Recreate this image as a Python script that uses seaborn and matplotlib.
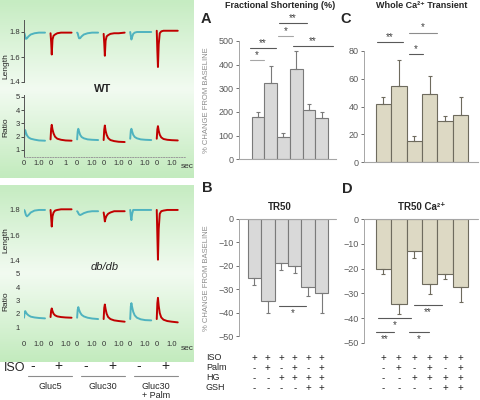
import numpy as np
import matplotlib
matplotlib.use("Agg")
import matplotlib.pyplot as plt
import matplotlib.transforms as mtransforms
from matplotlib.colors import LinearSegmentedColormap
import seaborn as sns

sns.set_theme(style="white")
plt.rcParams['font.family'] = ['Liberation Sans', 'DejaVu Sans']

# ---------------- data ----------------
CONDITIONS = ["ISO", "ISO+Palm", "ISO+HG", "ISO+Palm+HG", "ISO+HG+GSH", "ISO+Palm+HG+GSH"]

FS_MEAN = [177, 324, 93, 381, 209, 173]
FS_ERR = [21, 72, 19, 77, 24, 25]
CA_MEAN = [42, 54.5, 15, 49, 29.5, 34]
CA_ERR = [5, 19, 3.5, 13, 4, 13]
TR50_MEAN = [-25.4, -35, -18.6, -20, -29, -31.8]
TR50_ERR = [3, 5, 3.2, 3.2, 4, 8.2]
TR50CA_MEAN = [-20, -34.2, -13, -26.2, -22.3, -27.6]
TR50CA_ERR = [2.1, 4, 2.8, 4.1, 2, 6]

# significance brackets: (from, to, height, label, line colour)
SIG_A = [(-0.63, 0.47, 419, "*", "#a6a6a6"), (-0.63, 1.41, 472, "**", "#595959"),
         (1.57, 2.75, 521, "*", "#a6a6a6"), (1.65, 3.85, 577, "**", "#595959"),
         (2.75, 5.9, 478, "**", "#595959")]
SIG_C = [(-0.4, 1.27, 86.5, "**", "#595959"), (1.66, 2.57, 78, "*", "#595959"),
         (1.66, 3.48, 93.3, "*", "#8c8c8c")]
SIG_B = [(1.83, 3.84, -37.1, "*", "#595959")]
SIG_D = [(-0.37, 1.79, -40.1, "*", "#595959"), (1.99, 3.8, -34.7, "**", "#595959"),
         (-0.48, 0.69, -45.5, "**", "#595959"), (1.66, 2.98, -45.5, "*", "#595959")]

TREAT_NAMES = ["ISO", "Palm", "HG", "GSH"]
TREAT_ISO = ["+", "+", "+", "+", "+", "+"]
TREAT_PALM = ["-", "+", "-", "+", "-", "+"]
TREAT_HG = ["-", "-", "+", "+", "+", "+"]
TREAT_GSH = ["-", "-", "-", "-", "+", "+"]

# cell traces (cyan = -ISO, red = +ISO), one list per column
T_TRACE = [0, 0.04, 0.08, 0.13, 0.2, 0.3, 0.45, 0.7, 1.0, 1.4]
WT_LEN = [
    [1.795, 1.785, 1.765, 1.745, 1.75, 1.765, 1.78, 1.79, 1.795, 1.795],
    [1.79, 1.72, 1.62, 1.74, 1.77, 1.78, 1.79, 1.795, 1.795, 1.795],
    [1.795, 1.79, 1.77, 1.75, 1.75, 1.765, 1.78, 1.79, 1.795, 1.795],
    [1.785, 1.71, 1.61, 1.73, 1.765, 1.775, 1.785, 1.79, 1.79, 1.795],
    [1.80, 1.77, 1.74, 1.76, 1.785, 1.795, 1.80, 1.80, 1.80, 1.80],
    [1.81, 1.65, 1.52, 1.70, 1.79, 1.805, 1.81, 1.81, 1.81, 1.81],
]
DB_LEN = [
    [1.80, 1.795, 1.78, 1.76, 1.75, 1.76, 1.78, 1.795, 1.80, 1.80],
    [1.80, 1.74, 1.67, 1.75, 1.78, 1.795, 1.80, 1.805, 1.805, 1.805],
    [1.79, 1.785, 1.775, 1.765, 1.76, 1.765, 1.775, 1.785, 1.79, 1.79],
    [1.78, 1.75, 1.71, 1.735, 1.755, 1.77, 1.78, 1.79, 1.79, 1.79],
    [1.80, 1.75, 1.72, 1.77, 1.80, 1.80, 1.80, 1.80, 1.80, 1.80],
    [1.80, 1.60, 1.41, 1.65, 1.77, 1.79, 1.795, 1.80, 1.80, 1.80],
]
WT_RATIO = [
    [1.75, 2.3, 2.5, 2.3, 2.1, 1.95, 1.85, 1.78, 1.72, 1.7],
    [1.8, 2.6, 2.9, 2.55, 2.25, 2.0, 1.85, 1.77, 1.72, 1.7],
    [1.8, 2.4, 2.6, 2.4, 2.15, 1.98, 1.88, 1.8, 1.77, 1.75],
    [1.75, 2.55, 2.85, 2.45, 2.15, 1.9, 1.75, 1.67, 1.62, 1.6],
    [1.85, 2.45, 2.6, 2.4, 2.15, 1.98, 1.88, 1.8, 1.77, 1.75],
    [1.85, 2.55, 2.8, 2.45, 2.15, 1.95, 1.83, 1.77, 1.74, 1.72],
]
DB_RATIO = [
    [1.7, 2.05, 2.2, 2.1, 1.98, 1.88, 1.78, 1.72, 1.68, 1.65],
    [1.75, 2.25, 2.4, 2.2, 2.0, 1.88, 1.8, 1.75, 1.72, 1.7],
    [1.7, 2.3, 2.5, 2.3, 2.1, 1.92, 1.8, 1.7, 1.64, 1.6],
    [1.6, 2.45, 2.7, 2.35, 2.0, 1.75, 1.6, 1.5, 1.45, 1.4],
    [1.6, 2.55, 2.8, 2.5, 2.15, 1.88, 1.7, 1.58, 1.52, 1.5],
    [1.6, 2.8, 3.2, 2.6, 2.05, 1.72, 1.55, 1.45, 1.4, 1.35],
]
WT_XTICKS = ["0", "1.0", "0", "1", "0", "1.0", "0", "1.0", "0", "1.0", "0", "1.0"]
DB_XTICKS = ["0", "1.0", "0", "1.0", "0", "1.0", "0", "1.0", "0", "1.0", "0", "1.0"]
ISO_LEFT = ["-", "+", "-", "+", "-", "+"]
GROUPS = ["Gluc5", "Gluc30", "Gluc30\n+ Palm"]

# ---------------- layout helpers ----------------
W, H = 480, 400
fig = plt.figure(figsize=(W / 100, H / 100), dpi=100)
fig.patch.set_facecolor("white")


def px_axes(left, top, right, bottom, **kw):
    return fig.add_axes([left / W, 1 - bottom / H, (right - left) / W, (bottom - top) / H], **kw)


def ftext(x, y, s, **kw):
    fig.text(x / W, 1 - y / H, s, **kw)


TRACE_GAP = 1.77
TRACE_COLORS = ["#4fb3bf", "#c00000"]
GREEN = LinearSegmentedColormap.from_list("g", ["#c6ecc2", "#f2fbf1", "#c3ebbe"])


def green_box(top, bottom):
    ax = px_axes(0, top, 194, bottom)
    ax.imshow(np.linspace(0, 1, 100)[:, None], cmap=GREEN, aspect="auto")
    ax.set_axis_off()


def trace_axes(top, bottom, ylim, yticks, traces, show_spines, xlabels=None):
    ax = px_axes(24, top, 185, bottom)
    ax.patch.set_alpha(0)
    for i, vals in enumerate(traces):
        t = np.array(T_TRACE) + i * TRACE_GAP
        sns.lineplot(x=t, y=vals, ax=ax, color=TRACE_COLORS[i % 2], lw=1.4)
    ax.set_xlim(0, (185 - 24) / 15)
    ax.set_ylim(*ylim)
    ax.set_yticks(yticks)
    ax.set_yticklabels([f"{v:g}" if v >= 1.4 and v < 2 else str(int(v)) for v in yticks])
    ax.tick_params(axis="y", labelsize=5.5, colors="#333333", length=2, width=0.6, pad=1, left=show_spines)
    for s in ["top", "right"]:
        ax.spines[s].set_visible(False)
    ax.spines["left"].set_visible(show_spines)
    ax.spines["left"].set_color("#555555")
    ax.spines["left"].set_linewidth(0.7)
    ax.spines["bottom"].set_visible(False)
    if xlabels is None:
        ax.set_xticks([])
    else:
        pos = []
        for i in range(6):
            pos += [i * TRACE_GAP, i * TRACE_GAP + 1.0]
        ax.set_xticks(pos)
        ax.set_xticklabels(xlabels)
        ax.tick_params(axis="x", labelsize=5.5, colors="#333333", length=0, pad=2)
        if show_spines:
            ax.spines["bottom"].set_visible(True)
            ax.spines["bottom"].set_color("#9a9a9a")
            ax.spines["bottom"].set_linestyle(":")
            ax.spines["bottom"].set_linewidth(0.7)
    ax.set_xlabel("")
    ax.set_ylabel("")
    return ax


# ---------------- left panel: traces ----------------
green_box(0, 178)
green_box(185, 362)

trace_axes(20, 82, (1.4, 1.896), [1.4, 1.6, 1.8], WT_LEN, True)
ax_wt = trace_axes(95, 157, (0.47, 5.15), [1, 2, 3, 4, 5], WT_RATIO, True, WT_XTICKS)
trace_axes(200, 263, (1.384, 1.878), [1.4, 1.6, 1.8], DB_LEN, False)
ax_db = trace_axes(272, 338, (0.17, 5.15), [1, 2, 3, 4, 5], DB_RATIO, False, DB_XTICKS)

ftext(6, 66, "Length", rotation=90, fontsize=6, ha="center", va="center", color="#222222")
ftext(6, 127, "Ratio", rotation=90, fontsize=6, ha="center", va="center", color="#222222")
ftext(6, 240, "Length", rotation=90, fontsize=6, ha="center", va="center", color="#222222")
ftext(6, 301, "Ratio", rotation=90, fontsize=6, ha="center", va="center", color="#222222")
ftext(103, 89, "WT", fontsize=8, fontweight="bold", ha="center", va="center")
ftext(105, 267, "db/db", fontsize=8, fontstyle="italic", ha="center", va="center")
ftext(187, 167, "sec", fontsize=6, ha="center", va="center", color="#333333")
ftext(187, 349, "sec", fontsize=6, ha="center", va="center", color="#333333")

# ISO +/- row and glucose groups under the traces
ftext(15, 368, "ISO", fontsize=9, ha="center", va="center")
blend = mtransforms.blended_transform_factory(ax_db.transData, fig.transFigure)
for i, sym in enumerate(ISO_LEFT):
    fig.text(i * TRACE_GAP + 0.55, 1 - 366 / H, sym, transform=blend, fontsize=10,
             ha="center", va="center")
for g, name in enumerate(GROUPS):
    x0 = 2 * g * TRACE_GAP + 0.25
    x1 = (2 * g + 1) * TRACE_GAP + 1.45
    fig.add_artist(plt.Line2D([x0, x1], [1 - 376 / H] * 2, transform=blend, color="#8c8c8c", lw=0.8))
    fig.text((x0 + x1) / 2, 1 - 382 / H, name, transform=blend, fontsize=6.5,
             ha="center", va="top", linespacing=1.05)


# ---------------- right panels: bars ----------------
def bar_panel(box, xlim, means, errs, color, edge, ylim, yticks, sigs, below):
    ax = px_axes(*box)
    ax.patch.set_alpha(0)
    sns.barplot(x=CONDITIONS, y=means, ax=ax, color=color, width=1.0, edgecolor=edge,
                linewidth=0.8, errorbar=None, saturation=1)
    m = np.asarray(means, dtype=float)
    e = np.asarray(errs, dtype=float)
    lower = np.where(m < 0, e, 0)
    upper = np.where(m > 0, e, 0)
    ax.errorbar(np.arange(len(m)), m, yerr=[lower, upper], fmt="none", ecolor=edge,
                elinewidth=0.8, capsize=1.5, capthick=0.8)
    ax.set_xlim(*xlim)
    ax.set_ylim(*ylim)
    ax.set_yticks(yticks)
    ax.set_xticks([])
    ax.set_xlabel("")
    ax.set_ylabel("")
    ax.tick_params(axis="y", labelsize=6.5, colors="#595959", length=2, width=0.6, pad=2, left=True)
    for s in ["top", "right"]:
        ax.spines[s].set_visible(False)
    ax.spines["left"].set_color("#a6a6a6")
    ax.spines["left"].set_linewidth(0.7)
    if below:
        ax.spines["bottom"].set_visible(False)
        ax.axhline(0, color="#a6a6a6", lw=0.8, clip_on=False)
    else:
        ax.spines["bottom"].set_color("#a6a6a6")
        ax.spines["bottom"].set_linewidth(0.8)
    for x0, x1, y, lab, c in sigs:
        ax.plot([x0, x1], [y, y], color=c, lw=0.8, clip_on=False)
        if below:
            ax.text((x0 + x1) / 2, y - 0.8, lab, ha="center", va="top", fontsize=7,
                    color="#404040", clip_on=False)
        else:
            ax.text((x0 + x1) / 2, y, lab, ha="center", va="bottom", fontsize=7,
                    color="#404040", clip_on=False)
    return ax


GRAY, GRAY_EDGE = "#d9d9d9", "#7a7a7a"
TAN, TAN_EDGE = "#ddd9c4", "#6e6b5e"

bar_panel((239, 41, 336, 159.3), (-1.5, 6.13), FS_MEAN, FS_ERR, GRAY, GRAY_EDGE,
          (0, 500), [0, 100, 200, 300, 400, 500], SIG_A, False)
bar_panel((364, 51, 478, 162), (-1.26, 6.13), CA_MEAN, CA_ERR, TAN, TAN_EDGE,
          (0, 80), [0, 20, 40, 60, 80], SIG_C, False)
ax_b = bar_panel((239, 219, 336, 336), (-1.15, 6.07), TR50_MEAN, TR50_ERR, GRAY, GRAY_EDGE,
                 (-50, 0), [-50, -40, -30, -20, -10, 0], SIG_B, True)
ax_d = bar_panel((364, 219, 478, 343), (-1.26, 6.13), TR50CA_MEAN, TR50CA_ERR, TAN, TAN_EDGE,
                 (-50, 0), [-50, -40, -30, -20, -10, 0], SIG_D, True)

# titles and panel letters
ftext(280, 5, "Fractional Shortening (%)", fontsize=6.5, fontweight="bold", ha="center", va="center")
ftext(422, 5, "Whole Ca²⁺ Transient", fontsize=6.5, fontweight="bold", ha="center", va="center")
ftext(280, 207, "TR50", fontsize=7, fontweight="bold", ha="center", va="center")
ftext(422, 207, "TR50 Ca²⁺", fontsize=7, fontweight="bold", ha="center", va="center")
for lx, ly, letter in [(206, 19, "A"), (207, 188, "B"), (346, 19, "C"), (347, 189, "D")]:
    ftext(lx, ly, letter, fontsize=10.5, fontweight="bold", ha="center", va="center")
ftext(207, 100, "% CHANGE FROM BASELINE", rotation=90, fontsize=5.5, ha="center", va="center", color="#8c8c8c")
ftext(207, 278, "% CHANGE FROM BASELINE", rotation=90, fontsize=5.5, ha="center", va="center", color="#8c8c8c")

# treatment table under B and D
rows = [TREAT_ISO, TREAT_PALM, TREAT_HG, TREAT_GSH]
row_y = [358, 368, 378, 388]
for name, syms, y in zip(TREAT_NAMES, rows, row_y):
    ftext(206, y, name, fontsize=6.5, ha="left", va="center")
    for ax in (ax_b, ax_d):
        tr = mtransforms.blended_transform_factory(ax.transData, fig.transFigure)
        for i, s in enumerate(syms):
            fig.text(i, 1 - y / H, s, transform=tr, fontsize=7, ha="center", va="center")

fig.savefig("out.png", dpi=100)
